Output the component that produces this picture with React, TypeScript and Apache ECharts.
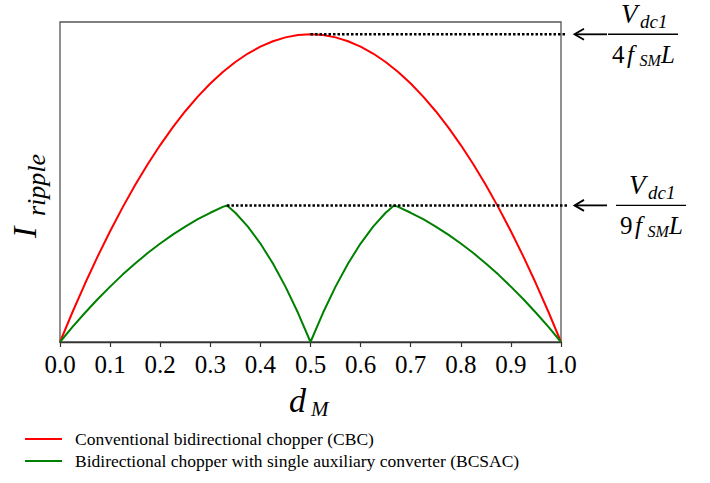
import React, { useEffect, useRef } from "react";
import * as echarts from "echarts";

const SERIF = "Liberation Serif";

// duty ratio samples for the CBC curve
const dM = [
  0, 0.025, 0.05, 0.075, 0.1, 0.125, 0.15, 0.175, 0.2, 0.225, 0.25, 0.275, 0.3, 0.325, 0.35, 0.375, 0.4,
  0.425, 0.45, 0.475, 0.5, 0.525, 0.55, 0.575, 0.6, 0.625, 0.65, 0.675, 0.7, 0.725, 0.75, 0.775, 0.8,
  0.825, 0.85, 0.875, 0.9, 0.925, 0.95, 0.975, 1,
];
// normalised ripple, CBC (red)
const cbcRipple = [
  0, 0.0975, 0.19, 0.2775, 0.36, 0.4375, 0.51, 0.5775, 0.64, 0.6975, 0.75, 0.7975, 0.84, 0.8775, 0.91,
  0.9375, 0.96, 0.9775, 0.99, 0.9975, 1.0, 0.9975, 0.99, 0.9775, 0.96, 0.9375, 0.91, 0.8775, 0.84,
  0.7975, 0.75, 0.6975, 0.64, 0.5775, 0.51, 0.4375, 0.36, 0.2775, 0.19, 0.0975, 0,
];
// duty ratio samples for the BCSAC curve
const bcsacD = [
  0, 0.025, 0.05, 0.075, 0.1, 0.125, 0.15, 0.175, 0.2, 0.225, 0.25, 0.275, 0.3, 0.325, 0.3333, 0.35,
  0.375, 0.4, 0.425, 0.45, 0.475, 0.5, 0.525, 0.55, 0.575, 0.6, 0.625, 0.65, 0.6667, 0.675, 0.7, 0.725,
  0.75, 0.775, 0.8, 0.825, 0.85, 0.875, 0.9, 0.925, 0.95, 0.975, 1,
];
// normalised ripple, BCSAC (green)
const bcsacRipple = [
  0, 0.049, 0.095, 0.139, 0.18, 0.219, 0.255, 0.289, 0.32, 0.349, 0.375, 0.399, 0.42, 0.439, 0.444, 0.42,
  0.375, 0.32, 0.255, 0.18, 0.095, 0, 0.095, 0.18, 0.255, 0.32, 0.375, 0.42, 0.444, 0.439, 0.42, 0.399,
  0.375, 0.349, 0.32, 0.289, 0.255, 0.219, 0.18, 0.139, 0.095, 0.049, 0,
];

const seriesNames = [
  "Conventional bidirectional chopper (CBC)",
  "Bidirectional chopper with single auxiliary converter (BCSAC)",
];
const xMin = 0;
const xMax = 1;
const xStep = 0.1;
const yMax = 1.04;

function txt(x: number, y: number, text: string, size: number, italic: boolean, extra: any = {}) {
  return {
    type: "text",
    x,
    y,
    silent: true,
    style: {
      text,
      fill: "#000",
      fontSize: size,
      fontFamily: SERIF,
      fontStyle: italic ? "italic" : "normal",
      align: "left",
      verticalAlign: "middle",
      textAlign: "left",
      textVerticalAlign: "middle",
      ...extra,
    },
  };
}

function fraction(yBar: number, dx: number, digit: string, barW: number) {
  return [
    {
      type: "line",
      silent: true,
      shape: { x1: 608 + dx, y1: yBar, x2: 608 + dx + barW, y2: yBar },
      style: { stroke: "#000", lineWidth: 1.4 },
    },
    txt(621 + dx, yBar - 20.5, "V", 27, true),
    txt(640 + dx, yBar - 12.5, "dc1", 19, true),
    txt(612 + dx, yBar + 20.5, digit, 25, false),
    txt(627 + dx, yBar + 20.5, "f", 25, true),
    txt(639.5 + dx, yBar + 26, "SM", 16, true),
    txt(661 + dx, yBar + 20.5, "L", 25, true),
  ];
}

function arrow(y: number) {
  return [
    {
      type: "line",
      silent: true,
      shape: { x1: 575, y1: y, x2: 607, y2: y },
      style: { stroke: "#000", lineWidth: 1.8 },
    },
    {
      type: "polyline",
      silent: true,
      shape: { points: [[584, y - 5.5], [574.5, y], [584, y + 5.5]] },
      style: { stroke: "#000", lineWidth: 1.8, fill: "none" },
    },
  ];
}

export default function App() {
  const ref = useRef<HTMLDivElement>(null);
  useEffect(() => {
    if (!ref.current) return;
    const chart = echarts.init(ref.current, null, { renderer: "svg" });
    chart.setOption({
      animation: false,
      textStyle: { fontFamily: SERIF },
      grid: {
        left: 60,
        right: 149,
        top: 22,
        bottom: 141,
        show: true,
        borderColor: "#555",
        borderWidth: 1.3,
        backgroundColor: "transparent",
      },
      xAxis: {
        type: "value",
        min: xMin,
        max: xMax,
        interval: xStep,
        axisLine: { show: true, lineStyle: { color: "#333", width: 1.3 } },
        axisTick: { show: true, length: 5, lineStyle: { color: "#333", width: 1.2 } },
        axisLabel: {
          margin: 10,
          fontSize: 25,
          color: "#000",
          fontFamily: SERIF,
          formatter: (v: number) => v.toFixed(1),
        },
        splitLine: { show: false },
      },
      yAxis: {
        type: "value",
        min: 0,
        max: yMax,
        axisLine: { show: false },
        axisTick: { show: false },
        axisLabel: { show: false },
        splitLine: { show: false },
      },
      legend: {
        orient: "vertical",
        left: 25,
        top: 430,
        padding: 0,
        icon: "rect",
        itemWidth: 37,
        itemHeight: 2,
        itemGap: 4,
        selectedMode: false,
        textStyle: { fontSize: 17.5, fontFamily: SERIF, color: "#000", padding: [0, 0, 0, 8] },
        data: seriesNames,
      },
      series: [
        {
          name: seriesNames[0],
          type: "line",
          data: dM.map((d, i) => [d, cbcRipple[i]]),
          showSymbol: false,
          symbol: "none",
          lineStyle: { color: "#ff0000", width: 2 },
          itemStyle: { color: "#ff0000" },
        },
        {
          name: seriesNames[1],
          type: "line",
          data: bcsacD.map((d, i) => [d, bcsacRipple[i]]),
          showSymbol: false,
          symbol: "none",
          lineStyle: { color: "#008000", width: 2 },
          itemStyle: { color: "#008000" },
        },
      ],
    });

    let ri = 0;
    cbcRipple.forEach((v, i) => {
      if (v > cbcRipple[ri]) ri = i;
    });
    let gi = 0;
    bcsacRipple.forEach((v, i) => {
      if (v > bcsacRipple[gi]) gi = i;
    });
    const pRed = chart.convertToPixel({ gridIndex: 0 }, [dM[ri], cbcRipple[ri]]) as number[];
    const pGreen = chart.convertToPixel({ gridIndex: 0 }, [bcsacD[gi], bcsacRipple[gi]]) as number[];

    const dotted = (p: number[]) => ({
      type: "line",
      silent: true,
      z: 10,
      shape: { x1: p[0], y1: p[1], x2: 567, y2: p[1] },
      style: { stroke: "#000", lineWidth: 2.5, lineDash: [2.5, 2] },
    });

    chart.setOption({
      graphic: [
        dotted(pRed),
        dotted(pGreen),
        ...arrow(pRed[1]),
        ...arrow(pGreen[1]),
        ...fraction(pRed[1], 0, "4", 70),
        ...fraction(pGreen[1], 8, "9", 70),
        {
          type: "group",
          x: 24,
          y: 238,
          rotation: Math.PI / 2,
          children: [txt(0, 0, "I", 34, true), txt(22, 12, "ripple", 26, true)],
        },
        txt(289, 400, "d", 34, true),
        txt(311, 409, "M", 21, true),
      ],
    });

    return () => chart.dispose();
  }, []);
  return (
    <div
      ref={ref}
      style={{ position: "absolute", left: 0, top: 0, width: 710, height: 483, background: "#fff" }}
    />
  );
}
